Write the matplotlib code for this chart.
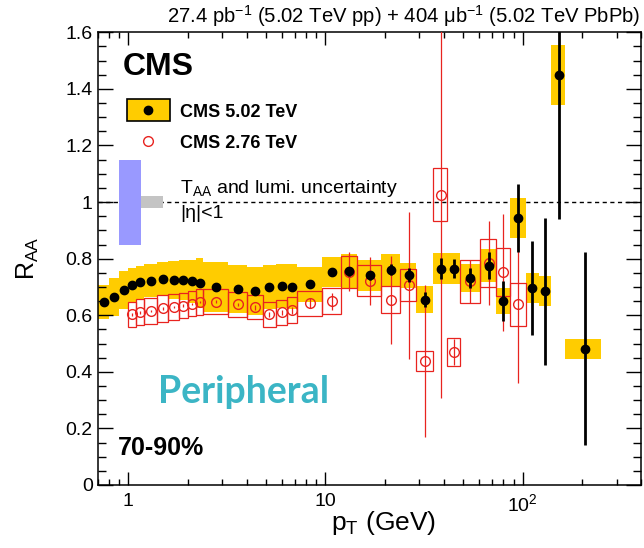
import matplotlib
matplotlib.use("Agg")
import matplotlib.pyplot as plt
from matplotlib.patches import Rectangle
from matplotlib.ticker import LogLocator, NullFormatter, FuncFormatter, MultipleLocator

plt.rcParams["font.family"] = "Liberation Sans"
plt.rcParams["mathtext.fontset"] = "custom"
plt.rcParams["mathtext.rm"] = "Liberation Sans"
plt.rcParams["mathtext.it"] = "Liberation Sans:italic"
plt.rcParams["mathtext.bf"] = "Liberation Sans:bold"

# bin edges in pT (GeV)
pt_edges = [0.7, 0.8, 0.9, 1.0, 1.1, 1.2, 1.4, 1.6, 1.8, 2.0, 2.2, 2.4, 3.2, 4.0, 4.8,
            5.6, 6.4, 7.2, 9.6, 12.0, 14.4, 19.2, 24.0, 28.8, 35.2, 41.6, 48.0, 60.8,
            73.6, 86.4, 103.6, 120.8, 140.0, 165.0, 250.0]

# CMS 5.02 TeV, 70-90%
raa_502 = [0.646, 0.663, 0.690, 0.707, 0.716, 0.722, 0.727, 0.724, 0.724, 0.721, 0.713,
           0.701, 0.693, 0.687, 0.699, 0.704, 0.701, 0.709, 0.752, 0.755, 0.741, 0.761,
           0.741, 0.655, 0.765, 0.765, 0.732, 0.775, 0.650, 0.943, 0.697, 0.685, 1.449, 0.482]
stat_502 = [0.004, 0.004, 0.004, 0.004, 0.004, 0.004, 0.004, 0.004, 0.004, 0.004, 0.004,
            0.004, 0.004, 0.005, 0.005, 0.006, 0.007, 0.008, 0.012, 0.015, 0.016, 0.020,
            0.025, 0.027, 0.036, 0.035, 0.035, 0.047, 0.070, 0.120, 0.167, 0.260, 0.510, 0.340]
sys_502 = [0.060, 0.067, 0.067, 0.059, 0.058, 0.059, 0.060, 0.068, 0.071, 0.076, 0.088,
           0.088, 0.084, 0.085, 0.078, 0.077, 0.080, 0.062, 0.053, 0.060, 0.056, 0.056,
           0.045, 0.047, 0.055, 0.055, 0.050, 0.058, 0.047, 0.070, 0.052, 0.052, 0.105, 0.035]

# CMS 2.76 TeV, bins 1.0 - 103.6 GeV
edges_276 = pt_edges[3:31]
raa_276 = [0.603, 0.610, 0.615, 0.624, 0.629, 0.634, 0.641, 0.646, 0.648, 0.638, 0.628,
           0.603, 0.610, 0.618, 0.642, 0.650, 0.754, 0.722, 0.655, 0.706, 0.438, 1.026,
           0.470, 0.720, 0.785, 0.752, 0.638]
stat_276 = [0.004, 0.004, 0.004, 0.004, 0.004, 0.004, 0.004, 0.004, 0.005, 0.006, 0.008,
            0.009, 0.010, 0.012, 0.018, 0.030, 0.068, 0.085, 0.155, 0.260, 0.270, 0.720,
            0.045, 0.076, 0.148, 0.207, 0.276]
sys_276 = [0.045, 0.046, 0.045, 0.047, 0.045, 0.045, 0.045, 0.045, 0.045, 0.045, 0.043,
           0.044, 0.044, 0.045, 0.045, 0.046, 0.057, 0.054, 0.048, 0.056, 0.035, 0.094,
           0.048, 0.076, 0.086, 0.085, 0.075]

# normalisation uncertainties
taa_unc = 0.15
lumi_unc = 0.02

YELLOW = "#ffcc00"
RED = "#e8231f"

fig = plt.figure(figsize=(6.44, 5.48), dpi=100)
ax = fig.add_axes([0.1517, 0.115, 0.8441, 0.826])
ax.set_xscale("log")
ax.set_xlim(0.7, 400)
ax.set_ylim(0, 1.6)

# 5.02 TeV systematics
for i, (y, s) in enumerate(zip(raa_502, sys_502)):
    lo, hi = pt_edges[i], pt_edges[i + 1]
    ax.add_patch(Rectangle((lo, y - s), hi - lo, 2 * s, facecolor=YELLOW,
                           edgecolor="none", zorder=1))

# 2.76 TeV systematics
for i, (y, s) in enumerate(zip(raa_276, sys_276)):
    lo, hi = edges_276[i], edges_276[i + 1]
    ax.add_patch(Rectangle((lo, y - s), hi - lo, 2 * s, facecolor="none",
                           edgecolor=RED, lw=0.9, zorder=2))

cent_502 = [0.5 * (pt_edges[i] + pt_edges[i + 1]) for i in range(len(raa_502))]
cent_276 = [0.5 * (edges_276[i] + edges_276[i + 1]) for i in range(len(raa_276))]

ax.errorbar(cent_276, raa_276, yerr=stat_276, fmt="o", ms=7, mfc="none", mec=RED,
            mew=1.0, ecolor=RED, elinewidth=0.9, capsize=0, zorder=3)
ax.errorbar(cent_502, raa_502, yerr=stat_502, fmt="o", ms=6, color="black",
            ecolor="black", elinewidth=2, capsize=0, zorder=4)

# unity line
ax.axhline(1.0, color="black", lw=1.0, ls=(0, (3, 2.5)), zorder=0.5)

# TAA and lumi boxes
ax.add_patch(Rectangle((0.897, 1 - taa_unc), 1.16 - 0.897, 2 * taa_unc,
                       facecolor="#9999ff", edgecolor="none", zorder=1))
ax.add_patch(Rectangle((1.16, 1 - lumi_unc), 1.495 - 1.16, 2 * lumi_unc,
                       facecolor="#c4c4c4", edgecolor="none", zorder=1))

# axes styling
ax.set_xticks([1, 10, 100])
ax.set_xticklabels(["1", "10", r"$10^{2}$"])
ax.xaxis.set_minor_locator(LogLocator(base=10, subs=range(2, 10), numticks=20))
ax.xaxis.set_minor_formatter(NullFormatter())
ax.yaxis.set_major_locator(MultipleLocator(0.2))
ax.yaxis.set_minor_locator(MultipleLocator(0.05))
ax.yaxis.set_major_formatter(FuncFormatter(lambda v, _: f"{v:g}"))
ax.tick_params(which="both", direction="in", top=True, right=True, width=1.0, labelsize=14)
ax.tick_params(axis="y", which="major", length=11, pad=3.5)
ax.tick_params(axis="y", which="minor", length=5.7)
ax.tick_params(axis="x", which="major", length=9.5, pad=6)
ax.tick_params(axis="x", which="minor", length=4.5)
for sp in ax.spines.values():
    sp.set_linewidth(1.1)

ax.set_xlabel(r"p$_{\rm T}$ (GeV)", fontsize=19)
ax.xaxis.set_label_coords(0.525, -0.054)
ax.set_ylabel(r"R$_{\rm AA}$", fontsize=18)
ax.yaxis.set_label_coords(-0.105, 0.5)

# texts
fig.text(0.994, 0.9575, r"27.4 pb$^{-1}$ (5.02 TeV pp) + 404 μb$^{-1}$ (5.02 TeV PbPb)",
         ha="right", va="baseline", fontsize=14.6)
ax.text(0.0465, 0.905, "CMS", transform=ax.transAxes, fontsize=23, fontweight="bold",
        va="baseline")

# legend
ax.add_patch(Rectangle((0.0533, 0.805), 0.0797, 0.048, transform=ax.transAxes,
                       facecolor=YELLOW, edgecolor="black", lw=1.2, zorder=5))
ax.plot([0.0925], [0.829], "o", color="black", ms=6, transform=ax.transAxes, zorder=6)
ax.text(0.151, 0.8136, "CMS 5.02 TeV", transform=ax.transAxes, fontsize=13,
        fontweight="bold", va="baseline")
ax.plot([0.0925], [0.760], "o", mfc="none", mec=RED, mew=1.0, ms=7,
        transform=ax.transAxes, zorder=6)
ax.text(0.151, 0.744, "CMS 2.76 TeV", transform=ax.transAxes, fontsize=13,
        fontweight="bold", va="baseline")

ax.text(0.151, 0.644, r"T$_{\rm AA}$ and lumi. uncertainty", transform=ax.transAxes,
        fontsize=14, va="baseline")
ax.text(0.151, 0.590, "|η|<1", transform=ax.transAxes, fontsize=14, va="baseline")

ax.text(0.111, 0.181, "Peripheral", transform=ax.transAxes, fontsize=27,
        fontweight="bold", family="Lato", color="#3bb5c5", va="baseline")
ax.text(0.0373, 0.0663, "70-90%", transform=ax.transAxes, fontsize=18,
        fontweight="bold", va="baseline")

fig.savefig("out.png", dpi=100)
